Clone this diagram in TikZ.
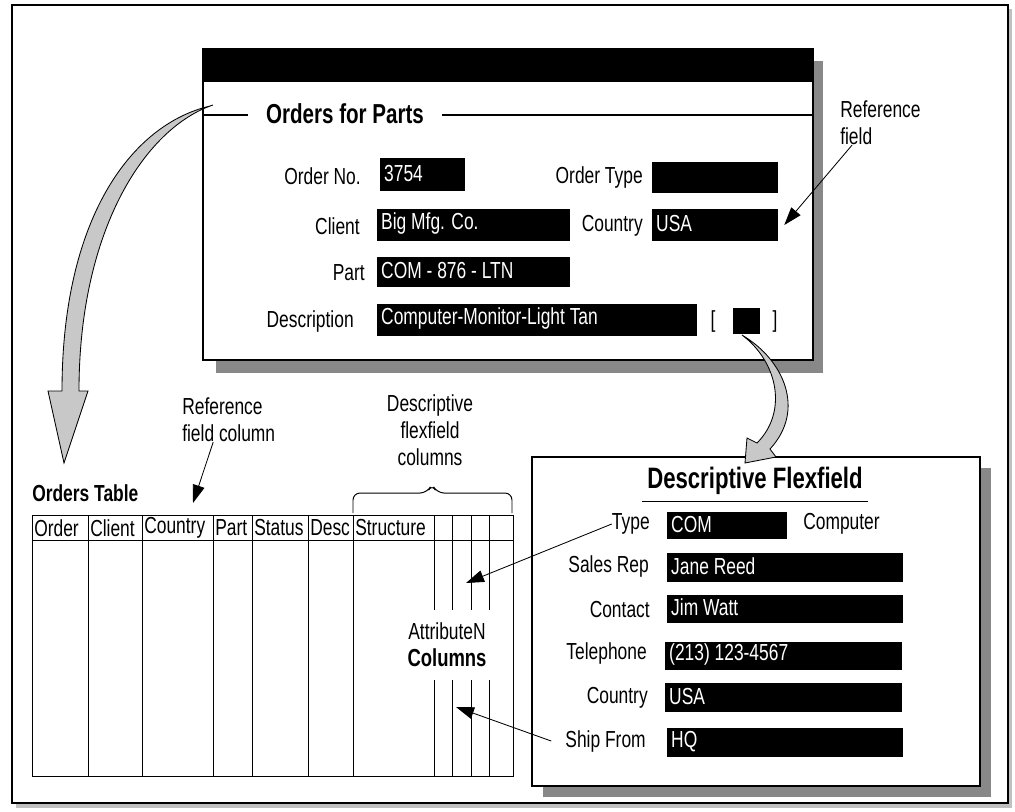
\documentclass[tikz,border=0pt]{standalone}
\usepackage{fontspec}
\setmainfont{Liberation Sans}[FakeStretch=0.75]
\usetikzlibrary{arrows.meta,fit}
\definecolor{shadowgray}{HTML}{888888}
\definecolor{framegray}{HTML}{C0C0C0}
\definecolor{arrowgray}{HTML}{C8C8C8}
\tikzset{
  lbl/.style={anchor=east, inner sep=0pt},
  fbox/.style={fill=black, inner sep=0pt},
  ftext/.style={anchor=west, text=white, inner sep=0pt, xshift=3pt, yshift=1pt},
  ptr/.style={line width=0.6pt, -{Triangle[length=0.45cm,width=0.3cm]}},
  bigarrow/.style={fill=arrowgray, draw=black, line width=0.6pt},
  col/.style={line width=0.7pt},
  boldtitle/.style={font=\fontsize{19.5}{22}\selectfont\bfseries},
}
\newcommand{\fieldbox}[6]{%
  \node[fbox, fit={(#2,#3) (#4,#5)}] (#1) {};
  \node[ftext] (#1txt) at (#1.west) {#6};}

\begin{document}
\begin{tikzpicture}[x=0.025cm, y=-0.025cm, font=\fontsize{16.5}{19}\selectfont]
        \useasboundingbox (0,0) rectangle (1015,811);
        \fill[white] (0,0) rectangle (1015,811);
        % outer frame
        \fill[framegray] (16,9) rectangle (1012,808);
        \draw[line width=1pt, fill=white] (12,5) rectangle (1008,803);

        % orders for parts window
        \fill[shadowgray] (216,61) rectangle (823,373);
        \draw[line width=0.8pt, fill=white] (203,49) rectangle (813,360);
        \fill (203,49) rectangle (813,82);
        \node[boldtitle, inner xsep=0.45cm] (oftitle) at (345,114) {Orders for Parts};
        \draw[line width=0.8pt] (203,115) -- (oftitle.west |- 0,115);
        \draw[line width=0.8pt] (oftitle.east |- 0,115) -- (813,115);

        \node[lbl] (lordno) at (361,176) {Order No.};
        \fieldbox{ordno}{380}{158}{465}{191}{3754}
        \node[lbl] (lclient) at (360,226) {Client};
        \fieldbox{client}{377}{209}{570}{241}{Big Mfg. Co.}
        \node[lbl] (lpart) at (365,273) {Part};
        \fieldbox{part}{377}{257}{570}{287}{COM - 876 - LTN}
        \node[lbl] (ldesc) at (354,321) {Description};
        \fieldbox{desc}{377}{304}{697}{336}{Computer-Monitor-Light Tan}
        \node[lbl] (lotype) at (643,177) {Order Type};
        \fieldbox{otype}{652}{162}{778}{193}{}
        \node[lbl] (lctry) at (643,226) {Country};
        \fieldbox{ctry}{652}{209}{778}{241}{USA}
        \node (lbr) at (713,321) {[};
        \node (rbr) at (775,321) {]};
        \fieldbox{flexbox}{733}{308}{760}{334}{}

        \node[align=left, anchor=west, inner sep=0pt] (reffld) at (840,123) {Reference\\field};
        \draw[ptr] ([xshift=0.3cm]reffld.south west) -- ([xshift=0.15cm]ctry.east);

        % orders table
        \node[font=\fontsize{16.5}{19}\selectfont\bfseries, anchor=west, inner sep=0pt] (otbl) at (32,493) {Orders Table};
        \draw[col] (32,515) rectangle (513,776);
        \draw[col] (32,540) -- (513,540);
        \foreach \x in {88,142,213,252,308,353}
            \draw[col] (\x,515) -- (\x,776);
        \foreach \x in {434,452,471,489} {
            \draw[col] (\x,515) -- (\x,610);
            \draw[col] (\x,680) -- (\x,776);
        }
        \foreach \x/\t in {32/Order,88/Client,142/Country,213/Part,252/Status,308/Desc,353/Structure}
            \node[anchor=west, inner sep=0pt] (hd\t) at (\x+2,528) {\t};
        \draw[col, rounded corners=5pt] (353,513) -- (353,493) -- (427,493) -- (432,484) -- (437,493) -- (512,493) -- (512,513);
        \node[align=center] (dfcols) at (430,430) {Descriptive\\flexfield\\columns};
        \node[align=left, anchor=west, inner sep=0pt] (rfcol) at (182,420) {Reference\\field column};
        \coordinate (rfcoltip) at (193,503);
        \draw[ptr] ([xshift=0.78cm]rfcol.south west) -- (rfcoltip);
        \node (attrn) at (447,631) {AttributeN};
        \node[font=\fontsize{17.5}{19}\selectfont\bfseries] (attrcols) at (447,658) {Columns};

        % descriptive flexfield window
        \fill[shadowgray] (543,468) rectangle (991,797);
        \draw[line width=0.8pt, fill=white] (532,457) rectangle (980,786);
        \node[font=\fontsize{21}{22}\selectfont\bfseries] (dftitle) at (755,481) {Descriptive Flexfield};
        \draw[line width=0.8pt] ([yshift=-1pt]dftitle.south west) -- ([yshift=-1pt]dftitle.south east);

        \node[lbl] (dftype) at (650,524) {Type};
        \fieldbox{type}{667}{512}{787}{539}{COM}
        \node[anchor=west, inner sep=0pt] (dfcomp) at (803,524) {Computer};
        \node[lbl] (dfrep) at (649,566) {Sales Rep};
        \fieldbox{rep}{667}{553}{903}{582}{Jane Reed}
        \node[lbl] (dfcontact) at (650,610) {Contact};
        \fieldbox{contact}{667}{595}{903}{623}{Jim Watt}
        \node[lbl] (dfphone) at (647,653) {Telephone};
        \fieldbox{phone}{665}{642}{902}{670}{(213) 123-4567}
        \node[lbl] (dfctry) at (648,698) {Country};
        \fieldbox{dctry}{665}{683}{902}{712}{USA}
        \node[lbl] (dfship) at (646,741) {Ship From};
        \fieldbox{ship}{667}{728}{903}{757}{HQ}

        % connectors to the attribute columns
        \coordinate (typetip) at (466,583);
        \coordinate (shiptip) at (456,707);
        \draw[ptr] (dftype.west) -- (typetip);
        \draw[ptr] ([xshift=-0.35cm]dfship.west) -- (shiptip);

        % gray block arrows
        \draw[bigarrow] (210,106) .. controls (130,125) and (62,220) .. (62,391) -- (48,391) -- (64,463) -- (88,391) -- (79,391) .. controls (79,230) and (145,128) .. (213,105) -- cycle;
        \draw[bigarrow] (742,335) .. controls (784,360) and (806,410) .. (770,449) -- (776,457) -- (745,463) -- (747,438) -- (757,443) .. controls (788,412) and (778,362) .. (742,335) -- cycle;
    \end{tikzpicture}
\end{document}
